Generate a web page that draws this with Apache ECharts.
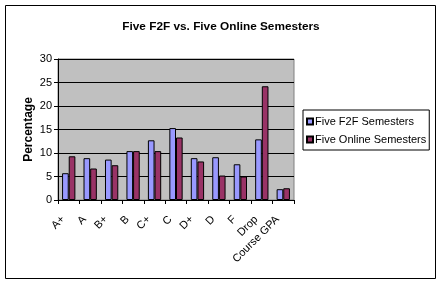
<!DOCTYPE html>
<html><head><meta charset="utf-8">
<script src="https://cdn.jsdelivr.net/npm/echarts@6/dist/echarts.min.js"></script>
<style>html,body{margin:0;padding:0;background:#fff}#c{width:441px;height:284px}</style>
</head><body><div id="c"></div>
<script>
var categories = ['A+','A','B+','B','C+','C','D+','D','F','Drop','Course GPA'];
var f2f = [5.7,8.9,8.6,10.4,12.7,15.3,8.9,9.1,7.6,12.9,2.3];
var online = [9.3,6.7,7.4,10.4,10.4,13.3,8.2,5.2,5.0,24.2,2.5];
var yTicks = [0,5,10,15,20,25,30];
var seriesNames = ['Five F2F Semesters','Five Online Semesters'];

var FONT = '"Liberation Sans", Arial, sans-serif';
var chart = echarts.init(document.getElementById('c'), null, {renderer:'canvas'});
chart.setOption({
  animation:false,
  backgroundColor:'#fff',
  title:{text:'Five F2F vs. Five Online Semesters', left:216, top:16, textAlign:'center',
    textStyle:{fontFamily:FONT, fontSize:11.8, fontWeight:'bold', color:'#000'}},
  graphic:[{type:'rect', shape:{x:5.5,y:5.5,width:430,height:273}, style:{fill:'none', stroke:'#000', lineWidth:1}, z:-1}],
  legend:{left:303, top:110, orient:'vertical', itemWidth:6, itemHeight:6, itemGap:7,
    padding:[6,3,5,3], borderColor:'#000', borderWidth:1, icon:'rect',
    textStyle:{fontFamily:FONT, fontSize:11, color:'#000', padding:[0,0,0,-3]},
    data:seriesNames},
  grid:{left:58, right:147, top:59, bottom:84, show:true, backgroundColor:'#C0C0C0', borderColor:'#808080', borderWidth:1},
  xAxis:{type:'category', data:categories, boundaryGap:true,
    axisLine:{lineStyle:{color:'#000'}},
    axisTick:{show:true, alignWithLabel:false, length:4, lineStyle:{color:'#000'}},
    axisLabel:{interval:0, rotate:45, fontFamily:FONT, fontSize:11, color:'#000', margin:12, padding:[0,8,0,0]}},
  yAxis:{type:'value', min:0, max:30, interval:5,
    name:'Percentage', nameLocation:'middle', nameGap:23, nameRotate:90, nameMoveOverlap:false,
    nameTextStyle:{fontFamily:FONT, fontSize:12, fontWeight:'bold', color:'#000'},
    axisLine:{show:true, lineStyle:{color:'#000'}},
    axisTick:{show:true, length:4, lineStyle:{color:'#000'}},
    splitLine:{show:true, lineStyle:{color:'#000', width:1}},
    axisLabel:{fontFamily:FONT, fontSize:11, color:'#000', margin:6,
      formatter:function(v){return yTicks.indexOf(v)>=0? String(v):'';}}},
  series:[
    {name:seriesNames[0], type:'bar', data:f2f, barGap:'0%', barCategoryGap:'38%',
      itemStyle:{color:'#9999FF', borderColor:'#000', borderWidth:1}},
    {name:seriesNames[1], type:'bar', data:online, barGap:'0%', barCategoryGap:'38%',
      itemStyle:{color:'#993366', borderColor:'#000', borderWidth:1}}
  ]
});
</script></body></html>
